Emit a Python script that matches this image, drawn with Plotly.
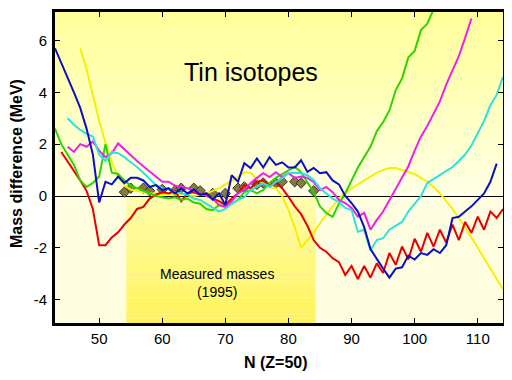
import plotly.graph_objects as go

# ---------------- data ----------------
n_blue = list(range(43, 115))
v_blue = [5.7, 5.15, 4.6, 4.0, 3.4, 2.6, 1.6, -0.25, 0.55, 0.45, 0.75, 0.5, 0.7, 0.7,
          0.6, 0.35, 0.42, 0.23, 0.3, 0.1, 0.3, 0.1, 0.25, 0.05, 0.1, -0.15, 0.1, -0.35,
          0.8, 0.55, 1.27, 1.08, 1.45, 1.1, 1.5, 1.2, 1.3, 1.1, 1.1, 1.38, 0.93, 1.08,
          0.88, 0.92, 0.6, 0.45, 0.0, -0.27, -0.6, -1.2, -2.05, -2.45, -2.8, -3.15,
          -2.8, -2.75, -2.3, -2.45, -2.2, -2.27, -2.05, -2.2, -1.9, -0.85, -0.8, -0.6,
          -0.4, -0.15, 0.1, 0.55, 1.25]

n_red = list(range(44, 115))
v_red = [1.7, 1.35, 1.0, 0.6, 0.2, -0.5, -1.9, -1.9, -1.6, -1.4, -1.1, -0.85, -0.5,
         -0.42, -0.1, 0.05, 0.15, 0.1, 0.2, -0.2, 0.1, 0.15, 0.05, 0.1, -0.1, -0.2,
         -0.35, -0.1, 0.1, 0.42, 0.3, 0.55, 0.6, 0.4, 0.5, 0.3, -0.03, -0.4, -0.7,
         -1.15, -1.7, -2.0, -2.15, -2.4, -2.55, -3.05, -2.7, -3.2, -2.7, -3.15, -2.6,
         -2.97, -2.2, -2.65, -1.95, -2.45, -1.65, -2.15, -1.42, -1.95, -1.3, -1.8,
         -1.1, -1.7, -1.0, -1.42, -0.8, -1.3, -0.6, -0.85, -0.5]

n_green = list(range(43, 105))
v_green = [2.6, 2.0, 1.6, 1.2, 0.6, 0.35, 0.5, 0.75, 2.0, 0.9, 0.85, 0.6, 0.4, 0.3,
           0.2, 0.1, 0.0, -0.05, -0.1, -0.05, -0.15, -0.1, -0.25, -0.3, -0.5, -0.55,
           -0.35, -0.4, -0.3, -0.15, 0.15, 0.23, 0.1, 0.23, 0.5, 0.7, 0.85, 1.0, 1.13,
           0.92, 0.54, 0.15, -0.4, -0.65, -0.8, -0.3, 0.1, 0.6, 1.1, 1.5, 1.9, 2.5,
           2.85, 3.3, 4.08, 4.54, 5.35, 5.6, 6.4, 6.65, 7.2, 7.6]

n_magenta = list(range(45, 110))
v_magenta = [1.9, 1.7, 2.0, 1.9, 2.1, 1.75, 1.5, 1.65, 2.03, 1.8, 1.6, 1.35, 1.15,
             0.95, 0.75, 0.55, 0.55, 0.4, 0.35, 0.3, 0.2, 0.1, 0.0, -0.1, -0.35,
             -0.42, -0.2, 0.1, 0.23, 0.5, 0.7, 0.88, 0.73, 0.92, 0.73, 0.88, 0.7,
             0.75, 0.7, 0.54, 0.23, 0.35, 0.15, -0.15, -0.27, -0.46, -0.8, -0.65,
             -1.3, -0.92, -0.6, -0.15, 0.25, 0.7, 1.15, 1.75, 2.3, 2.7, 3.2, 3.65,
             4.3, 4.85, 5.4, 6.1, 6.85]

n_cyan = list(range(45, 115))
v_cyan = [3.0, 2.75, 2.55, 2.4, 2.3, 1.6, 1.35, 1.7, 1.65, 1.5, 1.3, 1.12, 0.9, 0.65,
          0.42, 0.3, 0.25, 0.15, 0.1, 0.05, -0.1, -0.15, -0.3, -0.45, -0.6, -0.5,
          -0.3, -0.15, -0.04, 0.23, 0.35, 0.5, 0.35, 0.54, 0.69, 0.88, 0.9, 0.88,
          0.8, 0.62, 0.3, 0.1, -0.1, -0.23, -0.46, -0.54, -1.38, -1.3, -2.1, -1.7,
          -1.63, -1.3, -1.15, -1.0, -0.6, -0.3, 0.0, 0.5, 0.65, 0.8, 0.95, 1.12,
          1.35, 1.6, 1.95, 2.4, 2.9, 3.5, 3.9, 4.6]

n_yellow = list(range(47, 115))
v_yellow = [5.7, 4.9, 3.9, 2.9, 2.05, 1.3, 0.75, 0.4, 0.25, 0.2, 0.15, 0.1, 0.1, 0.05,
            0.1, 0.05, 0.1, 0.05, 0.0, 0.05, 0.1, 0.2, 0.3, 0.45, 0.6, 0.73, 0.92,
            0.9, 0.65, 0.5, 0.35, 0.3, 0.0, -0.54, -1.2, -2.0, -1.7, -1.4, -1.05,
            -0.7, -0.4, -0.1, 0.15, 0.3, 0.45, 0.62, 0.75, 0.9, 1.0, 1.08, 1.08, 1.0,
            0.95, 0.85, 0.7, 0.55, 0.35, 0.1, -0.2, -0.5, -0.85, -1.2, -1.6, -2.0,
            -2.4, -2.85, -3.2, -3.6]

n_measured = [54, 55, 57, 58, 60, 62, 63, 65, 66, 68, 70, 72, 73, 75, 76, 78, 79, 81,
              82, 84]
v_measured = [0.15, 0.3, 0.3, 0.2, 0.25, 0.2, 0.3, 0.3, 0.2, 0.1, 0.1, 0.3, 0.35,
              0.45, 0.5, 0.5, 0.55, 0.55, 0.5, 0.2]

x_ticks = [50, 60, 70, 80, 90, 100, 110]
y_ticks = [-4, -2, 0, 2, 4, 6]
y_tick_labels = ["-4", "-2", "0", "2", "4", "6"]
measured_span = [54.3, 84.3]
x_range = [43, 114]
y_range = [-4.9, 7.1]

FONT = "Liberation Sans, Arial, sans-serif"

# page body has an 8px margin: figure is sized/placed to compensate
W, H = 496, 364
ML, MR, MT, MB = 47, 1, 4, 49
OFF = 8
pw, ph = W - ML - MR, H - MT - MB


def px_to_paper(sx, sy):
    return (sx - OFF - ML) / pw, (H - MB - (sy - OFF)) / ph


fig = go.Figure()

fig.add_trace(go.Scatter(x=n_measured, y=v_measured, mode="markers",
                         marker=dict(symbol="diamond", size=8, color="#857a44",
                                     line=dict(color="#3a3420", width=1)),
                         hoverinfo="skip"))

series = [
    (n_yellow, v_yellow, "#f5f000"),
    (n_red, v_red, "#e80000"),
    (n_green, v_green, "#2fd400"),
    (n_magenta, v_magenta, "#f020e8"),
    (n_cyan, v_cyan, "#2ee0e0"),
    (n_blue, v_blue, "#0a10c0"),
]
for xs, ys, c in series:
    fig.add_trace(go.Scatter(x=xs, y=ys, mode="lines",
                             line=dict(color=c, width=2)))

# ---------------- background gradients ----------------
def mix(c1, c2, t):
    return "rgb(%d,%d,%d)" % tuple(round(a + (b - a) * t) for a, b in zip(c1, c2))

shapes = []
nb = 30
top_c, bot_c = (255, 255, 150), (255, 255, 228)
for i in range(nb):
    y0 = y_range[1] - (y_range[1] - 0) * i / nb
    y1 = y_range[1] - (y_range[1] - 0) * (i + 1) / nb
    shapes.append(dict(type="rect", xref="paper", yref="y", x0=0, x1=1, y0=y1, y1=y0,
                       fillcolor=mix(top_c, bot_c, i / (nb - 1)), line=dict(width=0),
                       layer="below"))
shapes.append(dict(type="rect", xref="paper", yref="y", x0=0, x1=1, y0=y_range[0], y1=0,
                   fillcolor="rgb(255,253,224)", line=dict(width=0), layer="below"))
r_top, r_bot = (255, 252, 170), (255, 243, 90)
for i in range(nb):
    y0 = 0 - (0 - y_range[0]) * i / nb
    y1 = 0 - (0 - y_range[0]) * (i + 1) / nb
    shapes.append(dict(type="rect", xref="x", yref="y", x0=measured_span[0],
                       x1=measured_span[1], y0=y1, y1=y0,
                       fillcolor=mix(r_top, r_bot, i / (nb - 1)), line=dict(width=0),
                       layer="below"))

xt_x, xt_y = px_to_paper(276, 362)
yt_x, yt_y = px_to_paper(16, 164)

fig.update_layout(
    width=W, height=H,
    margin=dict(l=ML, r=MR, t=MT, b=MB, autoexpand=False),
    paper_bgcolor="white", plot_bgcolor="rgb(255,253,224)",
    showlegend=False,
    shapes=shapes,
    font=dict(family=FONT, color="black"),
    annotations=[
        dict(x=74.1, y=4.8, xref="x", yref="y", text="Tin isotopes", showarrow=False,
             font=dict(family=FONT, size=25, color="black"), xanchor="center",
             yanchor="middle"),
        dict(x=68.7, y=-3.35, xref="x", yref="y", text="Measured masses<br>(1995)",
             showarrow=False, font=dict(family=FONT, size=14, color="black"),
             xanchor="center", yanchor="middle", align="center"),
        dict(x=xt_x, y=xt_y, xref="paper", yref="paper", text="<b>N (Z=50)</b>",
             showarrow=False, font=dict(family=FONT, size=16, color="black"),
             xanchor="center", yanchor="middle"),
        dict(x=yt_x, y=yt_y, xref="paper", yref="paper",
             text="<b>Mass difference (MeV)</b>", textangle=-90,
             showarrow=False, font=dict(family=FONT, size=16, color="black"),
             xanchor="center", yanchor="middle"),
    ],
)

fig.update_xaxes(range=x_range, tickvals=x_ticks, ticks="inside", ticklen=5,
                 tickwidth=1, tickcolor="black", showline=True, linewidth=3,
                 linecolor="black", mirror="allticks", showgrid=False, zeroline=False,
                 automargin=False, ticklabelstandoff=0,
                 tickfont=dict(size=15, family=FONT))
fig.update_yaxes(range=y_range, tickvals=y_ticks, ticktext=y_tick_labels,
                 ticks="inside", ticklen=5,
                 tickwidth=1, tickcolor="black", showline=True, linewidth=3,
                 linecolor="black", mirror="allticks", showgrid=False, zeroline=True,
                 zerolinecolor="black", zerolinewidth=1, automargin=False,
                 ticklabelstandoff=2,
                 tickfont=dict(size=15, family=FONT))

fig.write_html("out.html")
